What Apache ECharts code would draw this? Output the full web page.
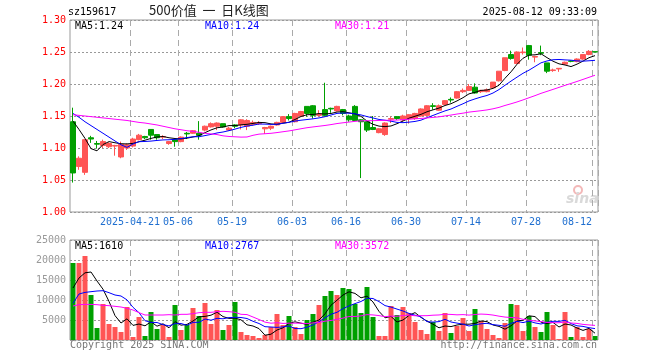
<!DOCTYPE html>
<html><head><meta charset="utf-8">
<script src="https://cdn.jsdelivr.net/npm/echarts@6/dist/echarts.min.js"></script>
<style>html,body{margin:0;padding:0;background:#fff}#c{width:660px;height:360px}</style>
</head><body><div id="c"></div>
<script>
// ---- categories ----
const dates = [
'2025-04-07','2025-04-08','2025-04-09','2025-04-10','2025-04-11','2025-04-14','2025-04-15','2025-04-16','2025-04-17','2025-04-18',
'2025-04-21','2025-04-22','2025-04-23','2025-04-24','2025-04-25','2025-04-28','2025-04-29','2025-04-30',
'2025-05-06','2025-05-07','2025-05-08','2025-05-09','2025-05-12','2025-05-13','2025-05-14','2025-05-15','2025-05-16','2025-05-19',
'2025-05-20','2025-05-21','2025-05-22','2025-05-23','2025-05-26','2025-05-27','2025-05-28','2025-05-29','2025-05-30',
'2025-06-03','2025-06-04','2025-06-05','2025-06-06','2025-06-09','2025-06-10','2025-06-11','2025-06-12','2025-06-13','2025-06-16',
'2025-06-17','2025-06-18','2025-06-19','2025-06-20','2025-06-23','2025-06-24','2025-06-25','2025-06-26','2025-06-27','2025-06-30',
'2025-07-01','2025-07-02','2025-07-03','2025-07-04','2025-07-07','2025-07-08','2025-07-09','2025-07-10','2025-07-11','2025-07-14',
'2025-07-15','2025-07-16','2025-07-17','2025-07-18','2025-07-21','2025-07-22','2025-07-23','2025-07-24','2025-07-25','2025-07-28',
'2025-07-29','2025-07-30','2025-07-31','2025-08-01','2025-08-04','2025-08-05','2025-08-06','2025-08-07','2025-08-08','2025-08-11','2025-08-12'];

// ---- daily K values ----
const opens = [1.141,1.071,1.062,1.116,1.107,1.104,1.102,1.103,1.086,1.100,
1.103,1.113,1.118,1.129,1.121,1.117,1.107,1.113,1.110,1.123,
1.123,1.123,1.128,1.133,1.134,1.138,1.128,1.136,1.136,1.134,
1.137,1.138,1.130,1.131,1.136,1.140,1.149,1.141,1.150,1.165,
1.166,1.151,1.160,1.162,1.158,1.160,1.150,1.165,1.144,1.141,
1.132,1.124,1.121,1.145,1.149,1.144,1.146,1.146,1.150,1.151,
1.166,1.159,1.168,1.176,1.178,1.188,1.190,1.195,1.188,1.188,
1.194,1.205,1.221,1.246,1.232,1.249,1.260,1.242,1.249,1.233,
1.221,1.2235,1.231,1.236,1.235,1.239,1.246,1.2505];
const closes = [1.061,1.084,1.113,1.114,1.106,1.110,1.107,1.104,1.106,1.105,
1.114,1.120,1.116,1.120,1.116,1.118,1.110,1.110,1.117,1.122,
1.127,1.120,1.134,1.138,1.139,1.133,1.131,1.134,1.144,1.143,
1.140,1.139,1.132,1.134,1.140,1.149,1.146,1.154,1.157,1.154,
1.151,1.153,1.151,1.161,1.165,1.154,1.144,1.143,1.141,1.128,
1.129,1.130,1.139,1.146,1.146,1.150,1.152,1.154,1.161,1.166,
1.165,1.166,1.174,1.175,1.188,1.190,1.196,1.186,1.190,1.191,
1.203,1.220,1.241,1.240,1.250,1.250,1.245,1.243,1.248,1.220,
1.222,1.2245,1.234,1.2355,1.239,1.246,1.251,1.250];
const lows = [1.046,1.066,1.058,1.108,1.099,1.100,1.100,1.088,1.084,1.097,
1.101,1.112,1.114,1.113,1.113,1.114,1.105,1.102,1.109,1.114,
1.122,1.113,1.126,1.132,1.128,1.132,1.127,1.131,1.129,1.128,
1.135,1.136,1.122,1.128,1.135,1.139,1.143,1.140,1.149,1.149,
1.146,1.149,1.149,1.155,1.157,1.151,1.141,1.142,1.053,1.125,
1.128,1.123,1.119,1.139,1.144,1.141,1.138,1.144,1.149,1.150,
1.160,1.158,1.167,1.171,1.177,1.186,1.189,1.185,1.186,1.187,
1.193,1.204,1.220,1.238,1.231,1.246,1.238,1.234,1.245,1.217,
1.219,1.219,1.230,1.234,1.234,1.238,1.245,1.250];
const highs = [1.163,1.087,1.114,1.119,1.111,1.113,1.109,1.105,1.110,1.107,
1.116,1.122,1.119,1.129,1.121,1.120,1.111,1.113,1.118,1.125,
1.128,1.142,1.135,1.140,1.140,1.138,1.133,1.137,1.145,1.145,
1.143,1.142,1.133,1.135,1.141,1.150,1.153,1.155,1.158,1.165,
1.167,1.159,1.202,1.163,1.166,1.161,1.152,1.167,1.145,1.142,
1.150,1.131,1.140,1.149,1.150,1.152,1.153,1.155,1.162,1.167,
1.170,1.168,1.175,1.179,1.189,1.193,1.200,1.201,1.191,1.193,
1.203,1.220,1.241,1.252,1.251,1.257,1.261,1.244,1.260,1.233,
1.224,1.225,1.235,1.237,1.240,1.246,1.253,1.2505];
const volumes = [19250,19250,21000,11250,3000,9000,4000,3250,2000,8250,
750,5750,1000,7000,2750,3750,750,8750,2500,3750,
8000,6000,9250,4000,7500,2500,3750,9500,2000,1250,
1000,500,1250,3250,6500,3750,6000,3250,1500,5000,
6500,8750,11000,12250,11250,13000,12750,9000,6750,13250,
5750,1000,1000,8500,6250,8250,6750,4500,2500,1500,
4500,2250,6750,1750,3500,5500,2250,7750,4750,2750,
1250,500,4250,9000,8750,2250,6000,3250,2000,7000,
3750,250,7000,750,3250,750,2750,1000];

const priceMA5Lead  = [1.142,1.129,1.115,1.099];
const priceMA10Lead = [1.154,1.148,1.141,1.135,1.129,1.123,1.117,1.111,1.105];
const priceMA30Lead = [1.152,1.151,1.150,1.149,1.148,1.147,1.146,1.145,1.144,1.143,
1.1415,1.140,1.139,1.1375,1.136,1.134,1.132,1.130,1.1285,1.127,
1.126,1.1245,1.123,1.122,1.121,1.119,1.118,1.1175,1.117];
const volMA5Lead  = [13000,15500,16800,17000];
const volMA10Lead = [9170,11500,11900,12080,12250,12330,11830,11250,11000];
const volMA30Lead = [8500,8830,8900,8900,8830,8670,8580,8420,8250,7920,
7500,6830,6250,6250,6250,6250,6330,6250,6420,6420,
6580,6830,6920,6920,7080,7170,7080,6920,6420];

// ---- axis ticks / labels ----
const xLabelIdx = [10,18,27,37,46,56,66,76,87];
const priceMin = 1.00, priceMax = 1.30, priceStep = 0.05;
const volMin = 0, volMax = 25000, volStep = 5000;
const legendPrice = ['MA5:1.24','MA10:1.24','MA30:1.21'];
const legendVol = ['MA5:1610','MA10:2767','MA30:3572'];

function movingAvg(src, n, lead) {
  return src.map((v, i) => {
    if (i < n - 1) return lead[i];
    let s = 0; for (let k = i - n + 1; k <= i; k++) s += src[k];
    return s / n;
  });
}

const UP = '#ff5555', DOWN = '#00a000';
const mono = 'DejaVu Sans Mono';
const chart = echarts.init(document.getElementById('c'), null, {renderer:'canvas'});
const isLab = (i) => xLabelIdx.indexOf(i) >= 0;
const vSplit = {show:true, interval:(i)=>isLab(i), lineStyle:{color:'#aaa', type:[6,4], width:1}};

const lineS = (data, color, xi, yi) => ({type:'line', data, xAxisIndex:xi, yAxisIndex:yi, symbol:'none',
  lineStyle:{color, width:1}, itemStyle:{color}, z:4, silent:true});

const option = {
  animation:false,
  backgroundColor:'#fff',
  grid:[
    {left:70, top:20, width:528, height:192, show:true, borderColor:'#999', borderWidth:1},
    {left:70, top:240, width:528, height:100, show:true, borderColor:'#999', borderWidth:1}
  ],
  xAxis:[
    {type:'category', gridIndex:0, data:dates, boundaryGap:true,
     axisLine:{show:false}, axisTick:{show:false},
     axisLabel:{interval:(i)=>isLab(i), color:'#1f6fd0', fontFamily:mono, fontSize:10, margin:5,
       formatter:(v, i)=> i===10 ? '{n|'+v+'}' : (i===87 ? '{l|'+v.slice(5)+'}' : '{n|'+v.slice(5)+'}'),
       rich:{n:{padding:[0,6,0,0], color:'#1f6fd0', fontFamily:mono, fontSize:10},
             l:{padding:[0,36,0,0], color:'#1f6fd0', fontFamily:mono, fontSize:10}}},
     splitLine:vSplit},
    {type:'category', gridIndex:1, data:dates, boundaryGap:true,
     axisLine:{show:false}, axisTick:{show:false}, axisLabel:{show:false}, splitLine:vSplit}
  ],
  yAxis:[
    {type:'value', gridIndex:0, min:priceMin, max:priceMax, interval:priceStep,
     axisLine:{show:false}, axisTick:{show:false},
     axisLabel:{color:'#ff0000', fontFamily:mono, fontSize:10, margin:4, formatter:(v)=>v.toFixed(2)},
     splitLine:{show:true, lineStyle:{color:'#999', type:[2,2], width:1}}},
    {type:'value', gridIndex:1, min:volMin, max:volMax, interval:volStep,
     axisLine:{show:false}, axisTick:{show:false},
     axisLabel:{color:'#999', fontFamily:mono, fontSize:10, margin:4, formatter:(v)=> v===0 ? '' : String(v)},
     splitLine:{show:true, lineStyle:{color:'#999', type:[2,2], width:1}}}
  ],
  series:[
    {type:'candlestick', xAxisIndex:0, yAxisIndex:0, barWidth:5,
     data: dates.map((d,i)=>[opens[i], closes[i], lows[i], highs[i]]),
     itemStyle:{color:UP, color0:DOWN, borderColor:UP, borderColor0:DOWN, borderWidth:1}, z:3},
    lineS(movingAvg(closes,5,priceMA5Lead), '#000000', 0, 0),
    lineS(movingAvg(closes,10,priceMA10Lead), '#0000ff', 0, 0),
    lineS(movingAvg(closes,30,priceMA30Lead), '#ff00ff', 0, 0),
    {type:'bar', xAxisIndex:1, yAxisIndex:1, barWidth:5,
     data: volumes.map((v,i)=>({value:v, itemStyle:{color: closes[i] >= opens[i] ? UP : DOWN}})), z:3},
    lineS(movingAvg(volumes,5,volMA5Lead), '#000000', 1, 1),
    lineS(movingAvg(volumes,10,volMA10Lead), '#0000ff', 1, 1),
    lineS(movingAvg(volumes,30,volMA30Lead), '#ff00ff', 1, 1)
  ],
  graphic:[
    {type:'text', left:68, top:7, style:{text:'sz159617', fill:'#000', font:'10px "DejaVu Sans Mono"'}},
    {type:'text', left:149, top:4, style:{text:'500价值  一  日K线图', fill:'#222', font:'13px "Noto Sans CJK SC"'}},
    {type:'text', right:63, top:7, style:{text:'2025-08-12 09:33:09', fill:'#000', font:'10px "DejaVu Sans Mono"'}},
    {type:'text', left:75, top:21, style:{text:legendPrice[0], fill:'#000', font:'10px "DejaVu Sans Mono"'}},
    {type:'text', left:205, top:21, style:{text:legendPrice[1], fill:'#0000ff', font:'10px "DejaVu Sans Mono"'}},
    {type:'text', left:335, top:21, style:{text:legendPrice[2], fill:'#ff00ff', font:'10px "DejaVu Sans Mono"'}},
    {type:'text', left:75, top:241, style:{text:legendVol[0], fill:'#000', font:'10px "DejaVu Sans Mono"'}},
    {type:'text', left:205, top:241, style:{text:legendVol[1], fill:'#0000ff', font:'10px "DejaVu Sans Mono"'}},
    {type:'text', left:335, top:241, style:{text:legendVol[2], fill:'#ff00ff', font:'10px "DejaVu Sans Mono"'}},
    {type:'text', left:70, top:340, style:{text:'Copyright 2025 SINA.COM', fill:'#777', font:'10px "DejaVu Sans Mono"'}},
    {type:'text', right:63, top:340, style:{text:'http://finance.sina.com.cn', fill:'#777', font:'10px "DejaVu Sans Mono"'}},
    {type:'circle', shape:{cx:578, cy:190, r:4}, style:{fill:'none', stroke:'#f3b8b8', lineWidth:2}},
    {type:'text', left:566, top:192, style:{text:'sina', fill:'#d9d9d9', font:'italic bold 14px "DejaVu Sans"'}}
  ]
};
chart.setOption(option);
</script>
</body></html>
